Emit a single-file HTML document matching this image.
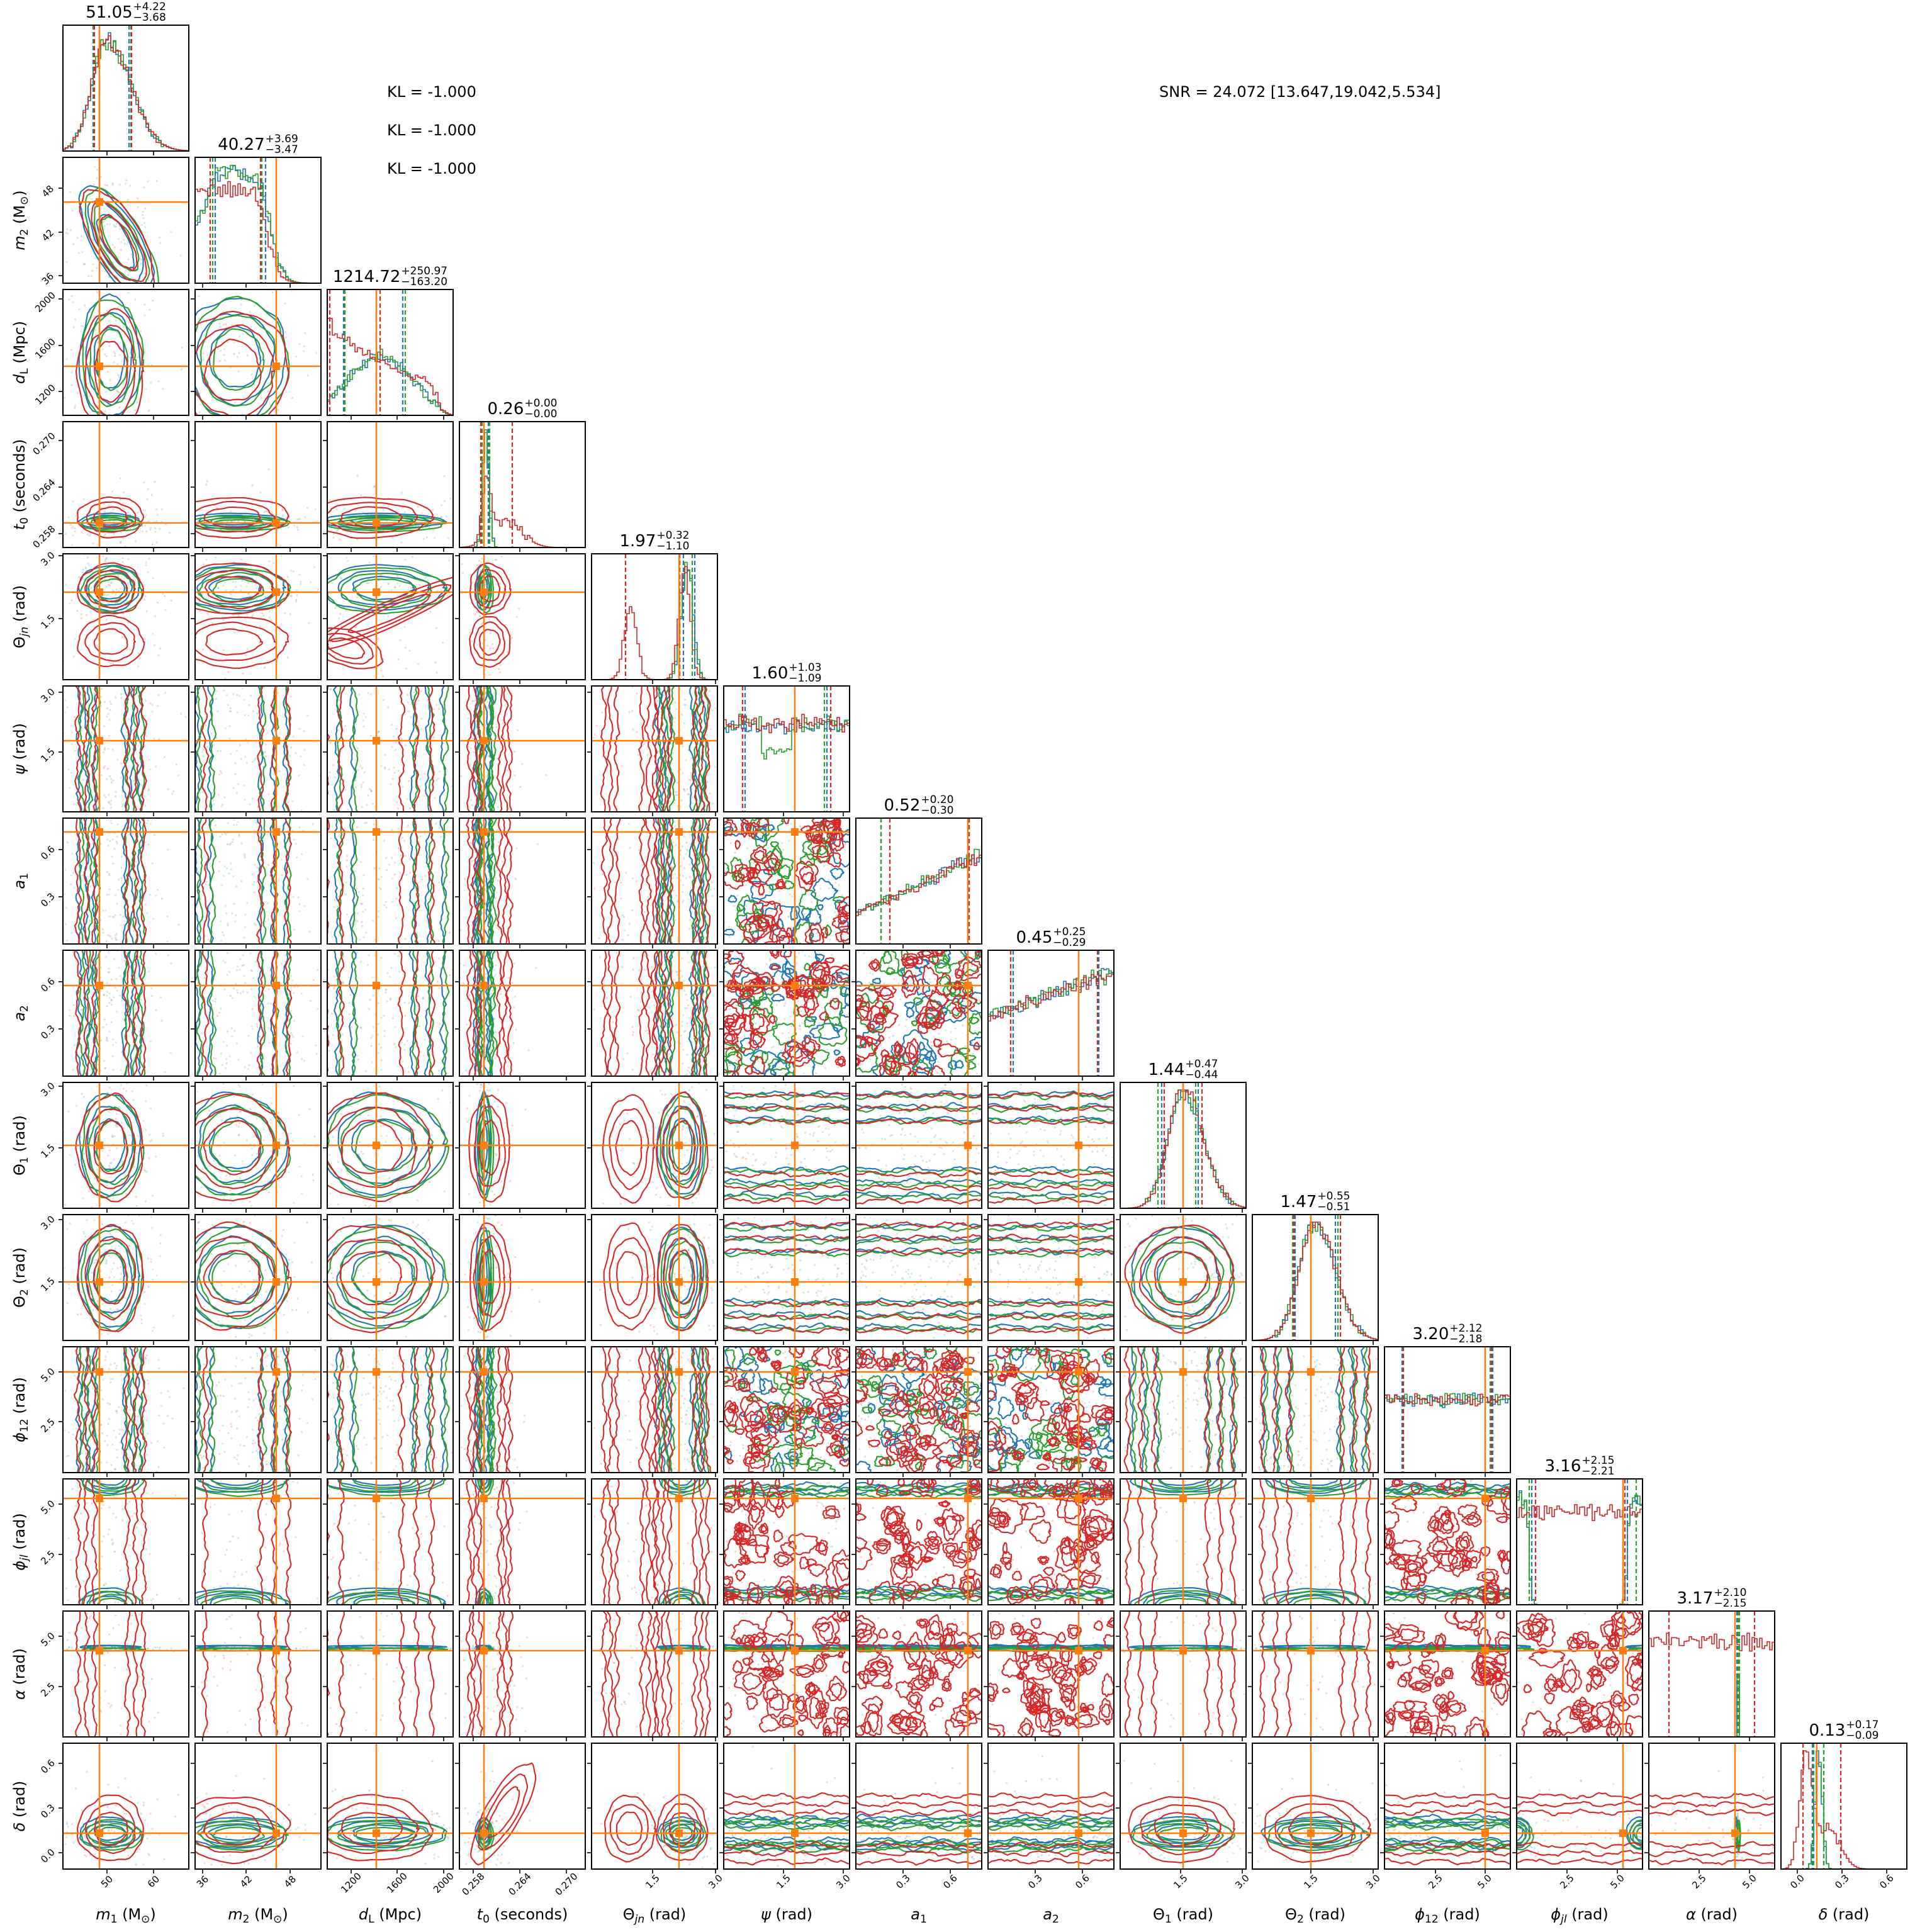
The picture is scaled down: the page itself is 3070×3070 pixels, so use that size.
<!DOCTYPE html>
<html><head><meta charset="utf-8">
<style>
html,body{margin:0;padding:0;background:#fff;}
#wrap{position:relative;width:3070px;height:3070px;overflow:hidden;background:#fff;font-family:"DejaVu Sans","Liberation Sans",sans-serif;color:#000;}
svg{position:absolute;left:0;top:0;}
.tk{font-size:15px;text-anchor:middle;dominant-baseline:central;font-family:"DejaVu Sans","Liberation Sans",sans-serif;}
.ttl{position:absolute;height:36px;display:flex;align-items:center;transform:translateX(-50%);font-size:26px;white-space:nowrap;}
.ss{display:inline-flex;flex-direction:column;font-size:17px;line-height:17px;margin-left:1px;}
.xl{position:absolute;top:3042px;transform:translate(-50%,-50%);font-size:24px;white-space:nowrap;}
.yl{position:absolute;left:31px;transform:translate(-50%,-50%) rotate(-90deg);font-size:24px;white-space:nowrap;}
.txt{position:absolute;font-size:24px;white-space:nowrap;transform:translateY(-50%);}
sub{font-size:17px;vertical-align:-5px;line-height:0;}
</style></head><body><div id="wrap">
<svg id="plot" width="3070" height="3070" viewBox="0 0 3070 3070" xmlns="http://www.w3.org/2000/svg">
<g id="panels"></g>
<g fill="#000">
<text class="tk" transform="translate(170,2990) rotate(-45)">50</text>
<text class="tk" transform="translate(244,2990) rotate(-45)">60</text>
<text class="tk" transform="translate(322,2990) rotate(-45)">36</text>
<text class="tk" transform="translate(391,2990) rotate(-45)">42</text>
<text class="tk" transform="translate(461,2990) rotate(-45)">48</text>
<text class="tk" transform="translate(558,2992) rotate(-45)">1200</text>
<text class="tk" transform="translate(631,2992) rotate(-45)">1600</text>
<text class="tk" transform="translate(705,2992) rotate(-45)">2000</text>
<text class="tk" transform="translate(752,2994) rotate(-45)">0.258</text>
<text class="tk" transform="translate(826,2994) rotate(-45)">0.264</text>
<text class="tk" transform="translate(900,2994) rotate(-45)">0.270</text>
<text class="tk" transform="translate(1037,2990) rotate(-45)">1.5</text>
<text class="tk" transform="translate(1137,2990) rotate(-45)">3.0</text>
<text class="tk" transform="translate(1245,2990) rotate(-45)">1.5</text>
<text class="tk" transform="translate(1340,2990) rotate(-45)">3.0</text>
<text class="tk" transform="translate(1435,2990) rotate(-45)">0.3</text>
<text class="tk" transform="translate(1510,2990) rotate(-45)">0.6</text>
<text class="tk" transform="translate(1645,2990) rotate(-45)">0.3</text>
<text class="tk" transform="translate(1720,2990) rotate(-45)">0.6</text>
<text class="tk" transform="translate(1876,2990) rotate(-45)">1.5</text>
<text class="tk" transform="translate(1974,2990) rotate(-45)">3.0</text>
<text class="tk" transform="translate(2083,2990) rotate(-45)">1.5</text>
<text class="tk" transform="translate(2182,2990) rotate(-45)">3.0</text>
<text class="tk" transform="translate(2281,2990) rotate(-45)">2.5</text>
<text class="tk" transform="translate(2359,2990) rotate(-45)">5.0</text>
<text class="tk" transform="translate(2490,2990) rotate(-45)">2.5</text>
<text class="tk" transform="translate(2570,2990) rotate(-45)">5.0</text>
<text class="tk" transform="translate(2700,2990) rotate(-45)">2.5</text>
<text class="tk" transform="translate(2780,2990) rotate(-45)">5.0</text>
<text class="tk" transform="translate(2856,2990) rotate(-45)">0.0</text>
<text class="tk" transform="translate(2927,2990) rotate(-45)">0.3</text>
<text class="tk" transform="translate(2998,2990) rotate(-45)">0.6</text>

<text class="tk" transform="translate(76,443) rotate(-45)">36</text>
<text class="tk" transform="translate(76,374) rotate(-45)">42</text>
<text class="tk" transform="translate(76,304) rotate(-45)">48</text>
<text class="tk" transform="translate(72,627) rotate(-45)">1200</text>
<text class="tk" transform="translate(72,554) rotate(-45)">1600</text>
<text class="tk" transform="translate(72,480) rotate(-45)">2000</text>
<text class="tk" transform="translate(70,853) rotate(-45)">0.258</text>
<text class="tk" transform="translate(70,779) rotate(-45)">0.264</text>
<text class="tk" transform="translate(70,705) rotate(-45)">0.270</text>
<text class="tk" transform="translate(76,988) rotate(-45)">1.5</text>
<text class="tk" transform="translate(76,888) rotate(-45)">3.0</text>
<text class="tk" transform="translate(76,1200) rotate(-45)">1.5</text>
<text class="tk" transform="translate(76,1105) rotate(-45)">3.0</text>
<text class="tk" transform="translate(76,1430) rotate(-45)">0.3</text>
<text class="tk" transform="translate(76,1355) rotate(-45)">0.6</text>
<text class="tk" transform="translate(76,1640) rotate(-45)">0.3</text>
<text class="tk" transform="translate(76,1565) rotate(-45)">0.6</text>
<text class="tk" transform="translate(76,1829) rotate(-45)">1.5</text>
<text class="tk" transform="translate(76,1731) rotate(-45)">3.0</text>
<text class="tk" transform="translate(76,2041) rotate(-45)">1.5</text>
<text class="tk" transform="translate(76,1943) rotate(-45)">3.0</text>
<text class="tk" transform="translate(76,2265) rotate(-45)">2.5</text>
<text class="tk" transform="translate(76,2185) rotate(-45)">5.0</text>
<text class="tk" transform="translate(76,2475) rotate(-45)">2.5</text>
<text class="tk" transform="translate(76,2395) rotate(-45)">5.0</text>
<text class="tk" transform="translate(76,2685) rotate(-45)">2.5</text>
<text class="tk" transform="translate(76,2605) rotate(-45)">5.0</text>
<text class="tk" transform="translate(76,2949) rotate(-45)">0.0</text>
<text class="tk" transform="translate(76,2878) rotate(-45)">0.3</text>
<text class="tk" transform="translate(76,2807) rotate(-45)">0.6</text>
</g>
</svg>

<div class="ttl" style="left:200px;top:2px">51.05<span class="ss"><span>+4.22</span><span>−3.68</span></span></div>
<div class="ttl" style="left:410px;top:212px">40.27<span class="ss"><span>+3.69</span><span>−3.47</span></span></div>
<div class="ttl" style="left:620px;top:422px">1214.72<span class="ss"><span>+250.97</span><span>−163.20</span></span></div>
<div class="ttl" style="left:830px;top:632px">0.26<span class="ss"><span>+0.00</span><span>−0.00</span></span></div>
<div class="ttl" style="left:1040px;top:842px">1.97<span class="ss"><span>+0.32</span><span>−1.10</span></span></div>
<div class="ttl" style="left:1250px;top:1052px">1.60<span class="ss"><span>+1.03</span><span>−1.09</span></span></div>
<div class="ttl" style="left:1460px;top:1262px">0.52<span class="ss"><span>+0.20</span><span>−0.30</span></span></div>
<div class="ttl" style="left:1670px;top:1472px">0.45<span class="ss"><span>+0.25</span><span>−0.29</span></span></div>
<div class="ttl" style="left:1880px;top:1682px">1.44<span class="ss"><span>+0.47</span><span>−0.44</span></span></div>
<div class="ttl" style="left:2090px;top:1892px">1.47<span class="ss"><span>+0.55</span><span>−0.51</span></span></div>
<div class="ttl" style="left:2300px;top:2102px">3.20<span class="ss"><span>+2.12</span><span>−2.18</span></span></div>
<div class="ttl" style="left:2510px;top:2312px">3.16<span class="ss"><span>+2.15</span><span>−2.21</span></span></div>
<div class="ttl" style="left:2720px;top:2522px">3.17<span class="ss"><span>+2.10</span><span>−2.15</span></span></div>
<div class="ttl" style="left:2930px;top:2732px">0.13<span class="ss"><span>+0.17</span><span>−0.09</span></span></div>

<div class="txt" style="left:615px;top:146px">KL = -1.000</div>
<div class="txt" style="left:615px;top:207px">KL = -1.000</div>
<div class="txt" style="left:615px;top:268px">KL = -1.000</div>
<div class="txt" style="left:1842px;top:146px">SNR = 24.072 [13.647,19.042,5.534]</div>

<div class="xl" style="left:200px"><i>m</i><sub>1</sub> (M<sub>⊙</sub>)</div>
<div class="xl" style="left:410px"><i>m</i><sub>2</sub> (M<sub>⊙</sub>)</div>
<div class="xl" style="left:620px"><i>d</i><sub>L</sub> (Mpc)</div>
<div class="xl" style="left:830px"><i>t</i><sub>0</sub> (seconds)</div>
<div class="xl" style="left:1040px">Θ<sub><i>jn</i></sub> (rad)</div>
<div class="xl" style="left:1250px"><i>ψ</i> (rad)</div>
<div class="xl" style="left:1460px"><i>a</i><sub>1</sub></div>
<div class="xl" style="left:1670px"><i>a</i><sub>2</sub></div>
<div class="xl" style="left:1880px">Θ<sub>1</sub> (rad)</div>
<div class="xl" style="left:2090px">Θ<sub>2</sub> (rad)</div>
<div class="xl" style="left:2300px"><i>ϕ</i><sub>12</sub> (rad)</div>
<div class="xl" style="left:2510px"><i>ϕ</i><sub><i>jl</i></sub> (rad)</div>
<div class="xl" style="left:2720px"><i>α</i> (rad)</div>
<div class="xl" style="left:2930px"><i>δ</i> (rad)</div>

<div class="yl" style="top:350px"><i>m</i><sub>2</sub> (M<sub>⊙</sub>)</div>
<div class="yl" style="top:560px"><i>d</i><sub>L</sub> (Mpc)</div>
<div class="yl" style="top:770px"><i>t</i><sub>0</sub> (seconds)</div>
<div class="yl" style="top:980px">Θ<sub><i>jn</i></sub> (rad)</div>
<div class="yl" style="top:1190px"><i>ψ</i> (rad)</div>
<div class="yl" style="top:1400px"><i>a</i><sub>1</sub></div>
<div class="yl" style="top:1610px"><i>a</i><sub>2</sub></div>
<div class="yl" style="top:1820px">Θ<sub>1</sub> (rad)</div>
<div class="yl" style="top:2030px">Θ<sub>2</sub> (rad)</div>
<div class="yl" style="top:2240px"><i>ϕ</i><sub>12</sub> (rad)</div>
<div class="yl" style="top:2450px"><i>ϕ</i><sub><i>jl</i></sub> (rad)</div>
<div class="yl" style="top:2660px"><i>α</i> (rad)</div>
<div class="yl" style="top:2870px"><i>δ</i> (rad)</div>
</div>
<script>
(function(){
var seed=12345;function rnd(){seed=(seed*16807)%2147483647;return (seed-1)/2147483646;}
function gn(){return Math.sqrt(-2*Math.log(rnd()+1e-9))*Math.cos(2*Math.PI*rnd());}
function G(x,m,s){return Math.exp(-0.5*((x-m)/s)*((x-m)/s));}
function S(x,a,w){return 1/(1+Math.exp(-(x-a)/w));}
var C={b:'#1f77b4',g:'#2ca02c',r:'#d62728',o:'#ff7f0e'};
var T=[.29,.645,.39,.195,.695,.565,.89,.72,.5,.465,.8,.845,.685,.285];
var XT=[[.35,.72],[.06,.405,.755],[.19,.555,.925],[.11,.48,.85],[.485,.985],[.475,.95],[.375,.75],[.375,.75],[.48,.97],[.465,.96],[.405,.8],[.4,.8],[.4,.8],[.13,.485,.84]];
var FL={5:1,6:1,7:1,10:1};
var H=[
function(x,c){return 0.93*G(x,.35,x<.35?.12:.19);},
function(x,c){return c=='r'?0.8*(1-S(x,.58,.045)):(0.5+0.45*S(x,.1,.03))*(1-S(x,.6,.045));},
function(x,c){return c=='r'?(0.7*Math.exp(-x*1.6)+0.1)*(1-S(x,.88,.03)):0.5*G(x,.42,.25)*(1-S(x,.92,.03));},
function(x,c){return c=='r'?0.55*G(x,.22,.035)+0.22*G(x,.38,.12):G(x,.21,.025);},
function(x,c){return c=='r'?0.62*G(x,.31,.05)+0.95*G(x,.74,.045):G(x,.76,.045);},
function(x,c){return c=='g'?((x>.3&&x<.55)?.5:.75):(c=='b'?.72:.75);},
function(x,c){return .25+.5*x;},
function(x,c){return .5+.38*x;},
function(x,c){return G(x,.5,x<.5?.12:.16);},
function(x,c){return G(x,.5,x<.5?.13:.16);},
function(x,c){return .62;},
function(x,c){return c=='r'?.78:.9*((1-S(x,.1,.01))+S(x,.88,.01));},
function(x,c){return c=='r'?.8:G(x,.705,.004);},
function(x,c){return c=='r'?0.95*G(x,.2,.05)+0.35*G(x,.38,.09):G(x,.3,.028);}
];
var Q=[
{b:[.24,.525],g:[.245,.54],r:[.25,.545]},
{b:[.16,.56],g:[.14,.53],r:[.12,.52]},
{b:[.13,.6],g:[.14,.62],r:[.02,.42]},
{b:[.18,.23],g:[.18,.24],r:[.17,.42]},
{b:[.73,.82],g:[.7,.8],r:[.27,.7]},
{b:[.17,.82],g:[.15,.8],r:[.15,.85]},
{b:[.2,.9],g:[.2,.89],r:[.27,.9]},
{b:[.2,.88],g:[.18,.87],r:[.18,.87]},
{b:[.33,.62],g:[.3,.6],r:[.35,.65]},
{b:[.34,.66],g:[.32,.68],r:[.33,.7]},
{b:[.14,.86],g:[.15,.84],r:[.15,.85]},
{b:[.12,.88],g:[.1,.95],r:[.15,.86]},
{b:[.7,.71],g:[.71,.72],r:[.16,.84]},
{b:[.25,.34],g:[.26,.34],r:[.175,.475]}
];
var M=[
{gb:[[.38,.12]],r:[[.38,.13]]},
{gb:[[.33,.2]],r:[[.3,.22]]},
{gb:[[.45,.24]],r:[[.35,.24]]},
{gb:[[.2,.03]],r:[[.24,.08]]},
{gb:[[.72,.09]],r:[[.3,.1],[.72,.1]]},
{gb:null,r:null},{gb:null,r:null},{gb:null,r:null},
{gb:[[.5,.2]],r:[[.48,.21]]},
{gb:[[.5,.2]],r:[[.5,.21]]},
{gb:null,r:null},
{gb:[[0,.06],[1,.06]],r:null},
{gb:[[.705,.006]],r:null},
{gb:[[.28,.06]],r:[[.32,.13]]}
];
var out=[];
function f(v){return v.toFixed(1);}
function ell(cx,cy,rx,ry,amp,rot){
 var p1=rnd()*6.28,p2=rnd()*6.28,p3=rnd()*6.28,n=56,d='';
 var cr=Math.cos(rot||0),sr=Math.sin(rot||0);
 for(var k=0;k<=n;k++){var t=k/n*6.283;
  var fct=1+amp*(0.5*Math.sin(3*t+p1)+0.3*Math.sin(7*t+p2)+0.2*Math.sin(11*t+p3)+(rnd()-.5)*0.3);
  if(k==n)fct=1;
  var ex=rx*Math.cos(t)*fct,ey=ry*Math.sin(t)*fct;
  var x=cx+ex*cr-ey*sr,y=cy+ex*sr+ey*cr;
  d+=(k?'L':'M')+f(x)+','+f(y);}
 return d+'Z';}
function band(pos,vertical,amp){
 var d='',p1=rnd()*6.28,p2=rnd()*6.28;
 for(var s=-4;s<=204;s+=5){var o=pos+amp*(Math.sin(s/13+p1)*0.6+Math.sin(s/5+p2)*0.3+(rnd()-.5)*0.6);
  d+=(s==-4?'M':'L')+(vertical?f(o)+','+s:s+','+f(o));}
 return d;}
for(var i=0;i<14;i++){for(var j=i;j<14;j++){
 var x0=100+210*i,y0=40+210*j;
 out.push('<svg x="'+x0+'" y="'+y0+'" width="200" height="200" viewBox="0 0 200 200" overflow="hidden">');
 if(i==j){
  ['b','g','r'].forEach(function(c){
   var nb=50,w=200/nb,d='M0,200';
   for(var b=0;b<nb;b++){var x=(b+.5)/nb;var v=H[i](x,c);
    v=v*(1+0.14*(rnd()-.5))+ (v>0.05?0.06*(rnd()-.5):0);
    if(v<0)v=0;if(v>1)v=1;var yy=200-v*188;
    d+='L'+f(b*w)+','+f(yy)+'L'+f((b+1)*w)+','+f(yy);}
   d+='L200,200';
   out.push('<path d="'+d+'" fill="none" stroke="'+C[c]+'" stroke-width="1.6"/>');
  });
  ['b','g','r'].forEach(function(c){Q[i][c].forEach(function(q){
   out.push('<line x1="'+f(q*200)+'" y1="0" x2="'+f(q*200)+'" y2="200" stroke="'+C[c]+'" stroke-width="2.2" stroke-dasharray="7,4"/>');});});
  out.push('<line x1="'+f(T[i]*200)+'" y1="0" x2="'+f(T[i]*200)+'" y2="200" stroke="'+C.o+'" stroke-width="2.5"/>');
 } else {
  ['r','b','g'].forEach(function(c){
   var k=c=='r'?'r':'gb',mx=M[i][k],my=M[j][k];
   for(var n=0;n<55;n++){
    var px,py;
    if(mx){var m=mx[Math.floor(rnd()*mx.length)];px=m[0]+gn()*m[1]*1.7;}else px=rnd();
    if(my){var m2=my[Math.floor(rnd()*my.length)];py=m2[0]+gn()*m2[1]*1.7;}else py=rnd();
    out.push('<circle cx="'+f(px*200)+'" cy="'+f((1-py)*200)+'" r="1.6" fill="'+C[c]+'" opacity="0.2"/>');}
  });
  ['b','g','r'].forEach(function(c){
   var k=c=='r'?'r':'gb',mx=M[i][k],my=M[j][k];
   var sh=c=='b'?-2:(c=='g'?2:0);
   var d='',lv=[1.0,1.5,2.0];
   if(i==0&&j==1){
    lv.forEach(function(L){d+=ell(88+sh*2,135+sh,L*48,L*19,0.07,1.05);});
   } else if(i==3&&j==13&&c=='r'){
    lv.forEach(function(L){d+=ell(70,110,L*45,L*14,0.06,-1.05);});
   } else if(i==2&&j==4&&c=='r'){
    d+=band(0,false,0);d='';
    lv.forEach(function(L){d+=ell(100,95,L*70,L*10,0.05,-0.42);});
    lv.forEach(function(L){d+=ell(30,150,L*30,L*14,0.06,0.3);});
   } else if(mx&&my){
    mx.forEach(function(a){my.forEach(function(b){lv.forEach(function(L){
     var rx=Math.max(2,L*a[1]*200),ry=Math.max(2,L*b[1]*200);
     d+=ell(a[0]*200+sh,(1-b[0])*200+sh,rx,ry,0.07);});});});
   } else if(mx&&!my){
    mx.forEach(function(a){lv.forEach(function(L){
     d+=band(a[0]*200-L*a[1]*200+sh,true,a[1]>0.02?5:1.5);d+=band(a[0]*200+L*a[1]*200+sh,true,a[1]>0.02?5:1.5);});});
   } else if(!mx&&my){
    my.forEach(function(b){lv.forEach(function(L){
     d+=band((1-b[0])*200-L*b[1]*200+sh,false,b[1]>0.02?5:1.5);d+=band((1-b[0])*200+L*b[1]*200+sh,false,b[1]>0.02?5:1.5);});});
   } else {
    var nl=c=='r'?34:18;
    for(var n=0;n<nl;n++){var r0=5+rnd()*14,cx=rnd()*200,cy=rnd()*200,ax=0.7+rnd()*0.8,ay=0.7+rnd()*0.8;
     d+=ell(cx,cy,r0*ax,r0*ay,0.25);
     if(c=='r'&&rnd()<0.6)d+=ell(cx,cy,r0*ax*0.6,r0*ay*0.6,0.2);
     if(rnd()<0.5)d+=ell(rnd()*200,rnd()*200,3+rnd()*6,3+rnd()*6,0.2);}
   }
   if(d)out.push('<path d="'+d+'" fill="none" stroke="'+C[c]+'" stroke-width="2.1" stroke-linejoin="round"/>');
  });
  var tx=T[i]*200,ty=(1-T[j])*200;
  out.push('<line x1="'+f(tx)+'" y1="0" x2="'+f(tx)+'" y2="200" stroke="'+C.o+'" stroke-width="2.5"/>');
  out.push('<line x1="0" y1="'+f(ty)+'" x2="200" y2="'+f(ty)+'" stroke="'+C.o+'" stroke-width="2.5"/>');
  out.push('<rect x="'+f(tx-6)+'" y="'+f(ty-6)+'" width="12" height="12" fill="'+C.o+'"/>');
 }
 out.push('</svg>');
 out.push('<rect x="'+x0+'" y="'+y0+'" width="200" height="200" fill="none" stroke="#000" stroke-width="2"/>');
 XT[i].forEach(function(q){var xx=x0+q*200;out.push('<line x1="'+f(xx)+'" y1="'+(y0+200)+'" x2="'+f(xx)+'" y2="'+(y0+207)+'" stroke="#000" stroke-width="1.6"/>');});
 if(i!=j)XT[j].forEach(function(q){var yy=y0+(1-q)*200;out.push('<line x1="'+(x0-7)+'" y1="'+f(yy)+'" x2="'+x0+'" y2="'+f(yy)+'" stroke="#000" stroke-width="1.6"/>');});
}}
document.getElementById('panels').innerHTML=out.join('');
})();
</script>
</body></html>
